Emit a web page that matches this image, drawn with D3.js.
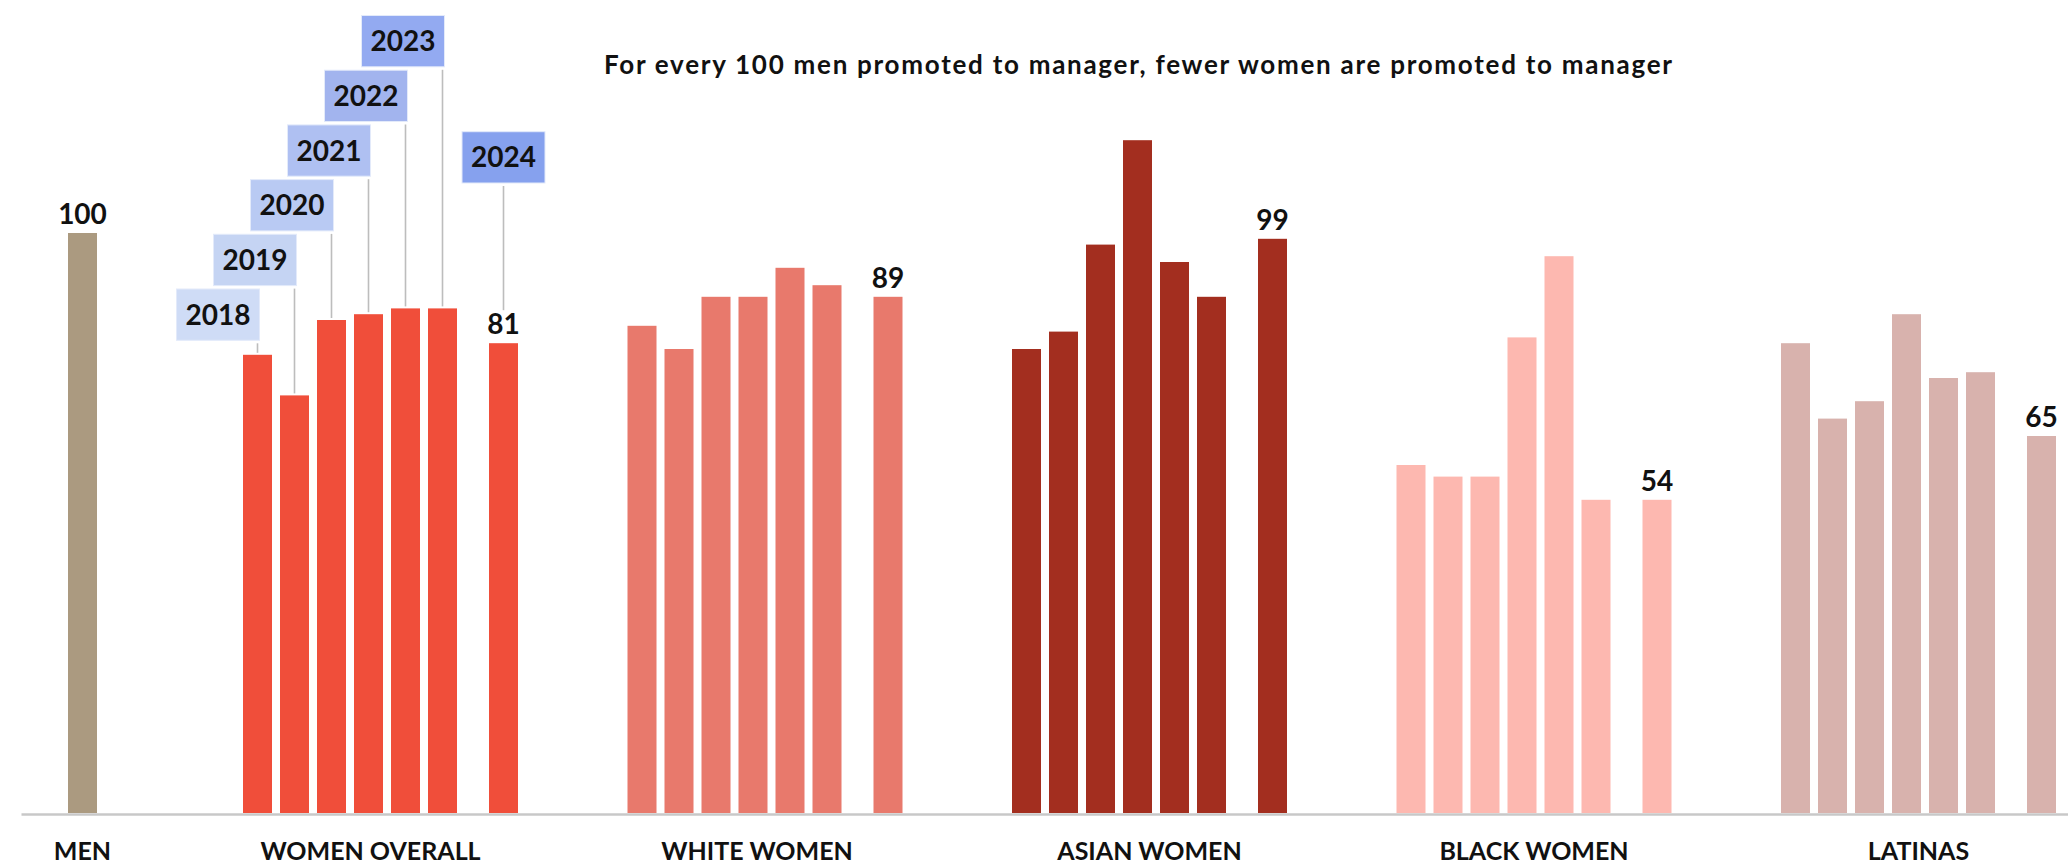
<!DOCTYPE html>
<html>
<head>
<meta charset="utf-8">
<script src="https://cdn.jsdelivr.net/npm/d3@7"></script>
<style>
  html, body { margin: 0; padding: 0; background: #ffffff; }
  svg { display: block; }
  text { font-family: Lato, "Open Sans", sans-serif; }
</style>
</head>
<body>
<div id="chart"></div>
<script>
// ---------------- DATA ----------------
const title = "For every 100 men promoted to manager, fewer women are promoted to manager";
const menLabel = "MEN";
const menValue = 100;
const groups = ["WOMEN OVERALL", "WHITE WOMEN", "ASIAN WOMEN", "BLACK WOMEN", "LATINAS"];
const years = ["2018", "2019", "2020", "2021", "2022", "2023", "2024"];
const womenOverall = [79, 72, 85, 86, 87, 87, 81];
const whiteWomen   = [84, 80, 89, 89, 94, 91, 89];
const asianWomen   = [80, 83, 98, 116, 95, 89, 99];
const blackWomen   = [60, 58, 58, 82, 96, 54, 54];
const latinas      = [81, 68, 71, 86, 75, 76, 65];
const seriesValues = [womenOverall, whiteWomen, asianWomen, blackWomen, latinas];

// ---------------- STYLE / LAYOUT ----------------
const W = 2068, H = 864;
const menColor = "#ab9a80";
const groupColors = ["#f04e3a", "#e8796c", "#a32e1f", "#fdb8b0", "#d8b2ad"];
const boxColors = ["#cfdcf6", "#c5d4f3", "#b9caf3", "#afc0f2", "#a2b4ee", "#93aaf1", "#86a1ee"];
const labelShift = [-10, -8, 0, 0, 0];

const svg = d3.select("#chart").append("svg")
  .attr("width", W).attr("height", H)
  .style("background", "#fff");

const y = d3.scaleLinear().domain([0, 100]).range([813, 233]);

const step = 384.5, bw = 275;
const pInner = 1 - bw / step;
const xGroup = d3.scaleBand().domain(groups)
  .range([243, 243 + step * (groups.length - pInner)])
  .paddingInner(pInner).paddingOuter(0);

const prevYears = years.slice(0, 6);
const latestYear = years[6];
const barPitch = 37, barW = 29;
const xYear = d3.scaleBand().domain(prevYears)
  .range([0, barPitch * (prevYears.length - (barPitch - barW) / barPitch)])
  .paddingInner((barPitch - barW) / barPitch).paddingOuter(0);
const latestGap = 61;
function yearOffset(yr) {
  return yr === latestYear ? xYear(prevYears[prevYears.length - 1]) + latestGap : xYear(yr);
}
const menX = 68;

// title
svg.append("text")
  .attr("x", 604).attr("y", 74)
  .attr("text-anchor", "start")
  .attr("font-size", 26).attr("font-weight", 700)
  .attr("fill", "#111")
  .attr("textLength", 1068).attr("lengthAdjust", "spacing")
  .text(title);

// baseline axis
const xAxisScale = d3.scaleLinear().domain([0, 1]).range([21, W]);
svg.append("g")
  .attr("transform", `translate(0,${y(0) + 1})`)
  .call(d3.axisBottom(xAxisScale).tickValues([]).tickSize(0))
  .call(g => g.select(".domain").attr("stroke", "#c8c8c8").attr("stroke-width", 2.5));

// men bar
svg.append("rect")
  .attr("x", menX).attr("y", y(menValue))
  .attr("width", barW).attr("height", y(0) - y(menValue))
  .attr("fill", menColor);
svg.append("text")
  .attr("x", menX + barW / 2).attr("y", y(menValue) - 9)
  .attr("text-anchor", "middle")
  .attr("font-size", 28).attr("font-weight", 700).attr("fill", "#111")
  .text(menValue);
svg.append("text")
  .attr("x", menX + barW / 2).attr("y", 860)
  .attr("text-anchor", "middle")
  .attr("font-size", 25).attr("font-weight", 700).attr("fill", "#111")
  .text(menLabel);

// group bars
const gGroups = svg.selectAll("g.grp").data(groups).join("g")
  .attr("class", "grp")
  .attr("transform", d => `translate(${xGroup(d)},0)`);

gGroups.each(function (gName, gi) {
  const g = d3.select(this);
  const vals = seriesValues[gi].map((v, i) => ({ year: years[i], value: v }));
  g.selectAll("rect").data(vals).join("rect")
    .attr("x", d => yearOffset(d.year))
    .attr("y", d => y(d.value))
    .attr("width", barW)
    .attr("height", d => y(0) - y(d.value))
    .attr("fill", groupColors[gi]);
  const last = vals[vals.length - 1];
  g.append("text")
    .attr("x", yearOffset(last.year) + barW / 2)
    .attr("y", y(last.value) - 9)
    .attr("text-anchor", "middle")
    .attr("font-size", 28).attr("font-weight", 700).attr("fill", "#111")
    .text(last.value);
  g.append("text")
    .attr("x", xGroup.bandwidth() / 2 + labelShift[gi])
    .attr("y", 860)
    .attr("text-anchor", "middle")
    .attr("font-size", 25).attr("font-weight", 700).attr("fill", "#111")
    .text(gName);
});

// year annotation boxes (women overall group)
const gx = xGroup(groups[0]);
const boxW = 83, boxH = 51.3, boxStep = 54.7, firstBoxTop = 289;
const ann = svg.append("g").attr("transform", `translate(${gx},0)`);
years.forEach((yr, i) => {
  const cx = yearOffset(yr) + barW / 2;
  const v = womenOverall[i];
  let bx, by, lineEnd;
  if (yr === latestYear) {
    bx = cx - boxW / 2;
    by = 131.7;
    lineEnd = y(v) - 9 - 20 - 4;
  } else {
    bx = cx + 2 - boxW;
    by = firstBoxTop - boxStep * i;
    lineEnd = y(v) - 2;
  }
  ann.append("line")
    .attr("x1", cx).attr("x2", cx)
    .attr("y1", by + boxH + 3).attr("y2", lineEnd)
    .attr("stroke", "#bdbdbd").attr("stroke-width", 1.6);
  ann.append("rect")
    .attr("x", bx).attr("y", by)
    .attr("width", boxW).attr("height", boxH)
    .attr("fill", boxColors[i])
    .attr("stroke", "#e3eafa").attr("stroke-width", 1);
  ann.append("text")
    .attr("x", bx + boxW / 2).attr("y", by + boxH / 2 + 10)
    .attr("text-anchor", "middle")
    .attr("font-size", 28).attr("font-weight", 700).attr("fill", "#111")
    .text(yr);
});
</script>
</body>
</html>
